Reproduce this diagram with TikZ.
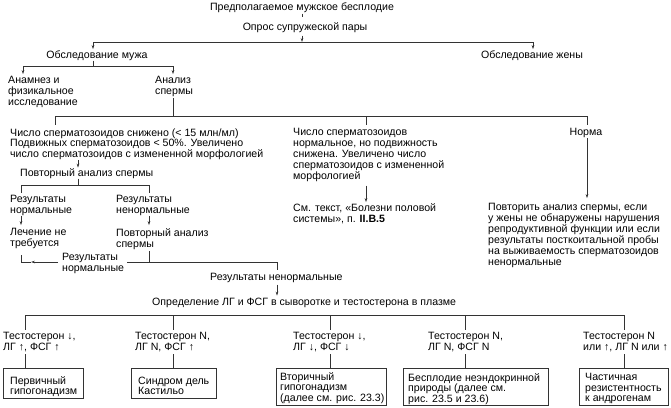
\documentclass[tikz,border=0pt]{standalone}
\usepackage{fontspec}
\setmainfont{Liberation Sans}
\usetikzlibrary{arrows.meta}
\newcommand{\dfont}{\fontsize{10.6}{10.9}\selectfont}
\newcommand{\bfontx}{\fontsize{10.6}{10.5}\selectfont}
\begin{document}
\begin{tikzpicture}[x=1pt,y=-1pt,
  txt/.style={inner sep=0pt, align=left, anchor=north west, font=\dfont},
  ctxt/.style={txt, anchor=north},
  btxt/.style={txt, font=\bfontx},
  ln/.style={draw=black!80, line width=0.6pt},
  arr/.style={ln, -{Stealth[length=4pt,width=2.6pt]}},
  boxf/.style={draw=black!80, line width=0.6pt, inner sep=0pt, anchor=north west}
]
\useasboundingbox (0,0) rectangle (671,407);

% texts
\node[ctxt] (pred) at (302,2.2) {Предполагаемое мужское бесплодие};
\node[ctxt] (opros) at (305,22.2) {Опрос супружеской пары};
\node[ctxt] (muzh) at (97,50.2) {Обследование мужа};
\node[ctxt] (zhena) at (532,50.2) {Обследование жены};
\node[txt] (anamnez) at (8,76.2) {Анамнез и\\физикальное\\исследование};
\node[txt] (analiz) at (155,76.2) {Анализ\\спермы};
\node[txt] (snizh) at (10,128.2) {Число сперматозоидов снижено (< 15 млн/мл)\\Подвижных сперматозоидов < 50\%. Увеличено\\число сперматозоидов с измененной морфологией};
\node[txt] (normmot) at (293,128.2) {Число сперматозоидов\\нормальное, но подвижность\\снижена. Увеличено число\\сперматозоидов с измененной\\морфологией};
\node[ctxt] (norma) at (586,128.2) {Норма};
\node[txt] (povt1) at (20,168.2) {Повторный анализ спермы};
\node[txt] (rn1) at (10,195.2) {Результаты\\нормальные};
\node[txt] (rnn1) at (116,195.2) {Результаты\\ненормальные};
\node[txt] (lech) at (10,228.2) {Лечение не\\требуется};
\node[txt] (povt2) at (116,228.2) {Повторный анализ\\спермы};
\node[txt] (rn2) at (62,253.2) {Результаты\\нормальные};
\node[txt] (rnn2) at (210,272.7) {Результаты ненормальные};
\node[txt] (opr) at (152,297.7) {Определение ЛГ и ФСГ в сыворотке и тестостерона в плазме};
\node[txt] (sm) at (293,203.2) {См. текст, «Болезни половой\\системы», п. \textbf{II.В.5}};
\node[txt] (povtor) at (488,203.2) {Повторить анализ спермы, если\\у жены не обнаружены нарушения\\репродуктивной функции или если\\результаты посткоитальной пробы\\на выживаемость сперматозоидов\\ненормальные};

\node[txt] (L1) at (3,332.2) {Тестостерон ↓,\\ЛГ ↑, ФСГ ↑};
\node[txt] (L2) at (135,332.2) {Тестостерон N,\\ЛГ N, ФСГ ↑};
\node[txt] (L3) at (293,332.2) {Тестостерон ↓,\\ЛГ ↓, ФСГ ↓};
\node[txt] (L4) at (428,332.2) {Тестостерон N,\\ЛГ N, ФСГ N};
\node[txt] (L5) at (583,332.2) {Тестостерон N\\или ↑, ЛГ N или ↑};

% boxes
\node[boxf, minimum width=80pt, minimum height=30pt] (B1) at (3,368) {};
\node[boxf, minimum width=85pt, minimum height=30pt] (B2) at (131,368) {};
\node[boxf, minimum width=110pt, minimum height=37pt] (B3) at (276,368) {};
\node[boxf, minimum width=145pt, minimum height=37pt] (B4) at (403,368) {};
\node[boxf, minimum width=89pt, minimum height=37pt] (B5) at (579,368) {};
\node[btxt] (B1t) at (10,376.4) {Первичный\\гипогонадизм};
\node[btxt] (B2t) at (138,376.4) {Синдром дель\\Кастильо};
\node[btxt] (B3t) at (280,372.2) {Вторичный\\гипогонадизм\\(далее см. рис. 23.3)};
\node[btxt] (B4t) at (408,373.2) {Бесплодие неэндокринной\\природы (далее см.\\рис. 23.5 и 23.6)};
\node[btxt] (B5t) at (585,373.2) {Частичная\\резистентность\\к андрогенам};

% bus coordinates
\coordinate (b0) at (302,42);
\coordinate (bL) at (93,42);
\coordinate (bR) at (533,42);
\coordinate (c0) at (93,66);
\coordinate (cL) at (23,66);
\coordinate (cR) at (173,66);
\coordinate (d0) at (173,116);
\coordinate (dL) at (55,116);
\coordinate (dM) at (366,116);
\coordinate (dR) at (587,116);
\coordinate (e0) at (78,185);
\coordinate (eL) at (21,185);
\coordinate (eR) at (149,185);
\coordinate (f0) at (149,262);
\coordinate (f1) at (277,262);
\coordinate (g0) at (21,262);
\coordinate (g1) at (31,262);
\coordinate (hL) at (25,315);
\coordinate (h2) at (173,315);
\coordinate (h3) at (330,315);
\coordinate (h4) at (465,315);
\coordinate (hR) at (624,315);

% connectors
\draw[ln, shorten <=1pt, shorten >=5pt] (pred.south) -- (pred.south |- opros.north);
\draw[arr, shorten <=3pt] (opros.south -| b0) -- (b0);
\draw[ln] (bL) -- (bR);
\draw[arr, shorten >=1pt] (bL) -- (bL |- muzh.north);
\draw[arr, shorten >=1pt] (bR) -- (bR |- zhena.north);

\draw[ln] (muzh.south -| c0) -- (c0);
\draw[ln] (cL) -- (cR);
\draw[arr, shorten >=2pt] (cL) -- (cL |- anamnez.north);
\draw[arr, shorten >=2pt] (cR) -- (cR |- analiz.north);

\draw[ln, shorten <=1.5pt] (analiz.south -| d0) -- (d0);
\draw[ln] (dL) -- (dR);
\draw[ln, shorten >=3pt] (dL) -- (dL |- snizh.north);
\draw[ln, shorten >=3pt] (dM) -- (dM |- normmot.north);
\draw[ln, shorten >=3pt] (dR) -- (dR |- norma.north);

\draw[arr, shorten >=0.5pt] (snizh.south -| e0) -- (povt1.north -| e0);
\draw[ln] (povt1.south -| e0) -- (e0);
\draw[ln] (eL) -- (eR);
\draw[ln, shorten >=2pt] (eL) -- (eL |- rn1.north);
\draw[ln, shorten >=2pt] (eR) -- (eR |- rnn1.north);
\draw[arr, shorten >=3pt] (rn1.south -| eL) -- (lech.north -| eL);
\draw[arr, shorten >=3pt] (rnn1.south -| eR) -- (povt2.north -| eR);

\draw[ln, shorten <=1.5pt] (povt2.south -| f0) -- (f0);
\draw[ln, shorten >=3pt] (f0) -- (rn2.east |- f0);
\draw[ln, shorten >=3pt] (f0) -- (f1) -- (f1 |- rnn2.north);
\draw[arr, shorten <=4pt] (rn2.west |- f0) -- (g1);
\draw[ln, shorten >=6pt] (g1) -- (g0) -- (g0 |- lech.south);
\draw[arr, shorten <=2pt, shorten >=2pt] (rnn2.south -| f1) -- (opr.north -| f1);

\draw[arr, shorten >=1pt] (normmot.south -| dM) ++(0,4) -- (sm.north -| dM);
\draw[arr, shorten >=5pt] (norma.south -| dR) -- (povtor.north -| dR);

\draw[ln] (hL) -- (hR);
\foreach \h/\l/\b in {hL/L1/B1, h2/L2/B2, h3/L3/B3, h4/L4/B4, hR/L5/B5}{
  \draw[ln, shorten >=2pt] (\h) -- (\h |- \l.north);
  \draw[ln, shorten <=2pt] (\h |- \l.south) -- (\h |- \b.north);
}
\end{tikzpicture}
\end{document}
